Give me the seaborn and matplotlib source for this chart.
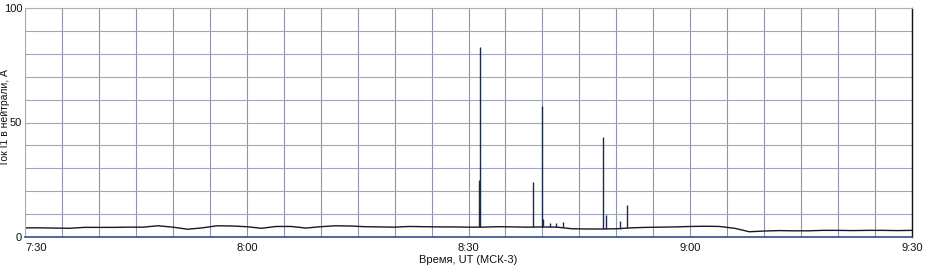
import numpy as np
import pandas as pd
import seaborn as sns
import matplotlib
matplotlib.use("Agg")
import matplotlib.pyplot as plt
from matplotlib.ticker import MultipleLocator

# minutes after 7:30, baseline neutral current (A)
base_t = list(range(0, 122, 2))
base_v = [4.0, 4.0, 3.9, 3.8, 4.2, 4.2, 4.2, 4.3, 4.3, 4.9, 4.3, 3.4, 4.0, 4.9, 4.8, 4.5,
          3.8, 4.6, 4.6, 3.9, 4.5, 4.9, 4.8, 4.5, 4.4, 4.3, 4.6, 4.5, 4.4, 4.4, 4.3, 4.3,
          4.5, 4.4, 4.3, 4.4, 4.3, 3.6, 3.5, 3.5, 3.6, 4.0, 4.2, 4.3, 4.4, 4.6, 4.7, 4.6,
          3.8, 2.3, 2.6, 2.8, 2.7, 2.7, 2.9, 2.9, 2.8, 2.9, 2.9, 2.8, 2.9]

# spikes: time (min after 7:30), base, peak
spike_t = [61.45, 61.6, 68.7, 70.0, 70.1, 71.0, 71.9, 72.8, 78.2, 78.6, 80.5, 81.4]
spike_base = [4.3, 4.3, 4.3, 4.4, 4.4, 4.3, 4.3, 4.3, 3.5, 3.5, 3.6, 3.8]
spike_peak = [25, 83, 24, 57, 8, 6, 6.2, 6.5, 43.7, 9.5, 7, 14]

x_ticks = [0, 30, 60, 90, 120]
x_labels = ["7:30", "8:00", "8:30", "9:00", "9:30"]
y_ticks = [0, 50, 100]

df = pd.DataFrame({"t": base_t, "I": base_v})

sns.set_theme(style="white")
plt.rcParams["font.family"] = ["Liberation Sans", "DejaVu Sans"]

fig = plt.figure(figsize=(9.27, 2.69), dpi=100)
ax = fig.add_axes([25 / 927, 1 - 237 / 269, (912 - 25) / 927, (237 - 8) / 269])

ax.xaxis.set_minor_locator(MultipleLocator(5))
ax.yaxis.set_minor_locator(MultipleLocator(10))
ax.grid(which="both", axis="x", color="#8f93a8", linewidth=0.8)
ax.grid(which="both", axis="y", color="#a2a6ba", linewidth=0.8)
ax.set_axisbelow(True)

sns.lineplot(data=df, x="t", y="I", ax=ax, color="#15181f", linewidth=1.0)
ax.vlines(spike_t, spike_base, spike_peak, color="#1e2a4a", linewidth=1.0)

ax.set_xlim(0, 120)
ax.set_ylim(0, 100)
ax.set_xticks(x_ticks)
ax.set_xticklabels(x_labels)
ax.set_yticks(y_ticks)
ax.set_yticklabels([str(v) for v in y_ticks])
ax.tick_params(axis="both", which="both", length=0, labelsize=8, colors="#111111")
ax.tick_params(axis="x", pad=4)
ax.tick_params(axis="y", pad=2)
labs = ax.get_xticklabels()
labs[0].set_horizontalalignment("left")

for s in ["left", "top"]:
    ax.spines[s].set_color("#b0b0b0")
    ax.spines[s].set_linewidth(0.8)
ax.spines["right"].set_color("#111111")
ax.spines["right"].set_linewidth(1.0)
ax.spines["bottom"].set_color("#2f4f8f")
ax.spines["bottom"].set_linewidth(1.2)

ax.set_xlabel("Время, UT (МСК-3)", fontsize=8, color="#111111", labelpad=2)
ax.set_ylabel("Ток I1 в нейтрали, А", fontsize=7.5, color="#111111")
ax.yaxis.set_label_coords(-0.0165, 0.52)

fig.savefig("out.png", dpi=100)
